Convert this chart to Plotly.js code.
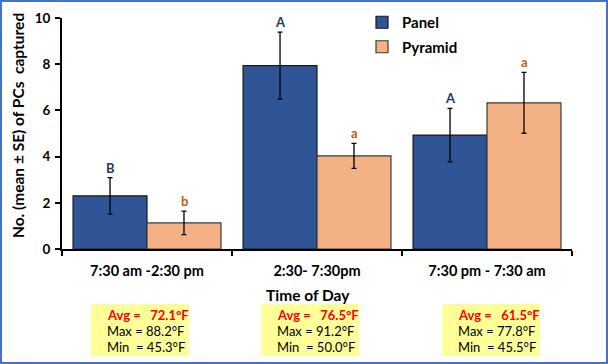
<!DOCTYPE html>
<html>
<head>
<meta charset="utf-8">
<script src="https://cdn.plot.ly/plotly-3.0.1.min.js"></script>
<style>
  html, body { margin: 0; padding: 0; background: #fff; }
  #wrap { position: relative; width: 608px; height: 364px; }
  #chart { width: 608px; height: 364px; }
  #frame { position: absolute; left: 0; top: 0; width: 608px; height: 364px; box-sizing: border-box; border: 2px solid #4472C4; pointer-events: none; }
</style>
</head>
<body>
<div id="wrap"><div id="chart"></div><div id="frame"></div></div>
<script>
const categories = ["7:30 am -2:30 pm", "2:30- 7:30pm", "7:30 pm - 7:30 am"];
const panelMean = [2.3, 7.94, 4.93];
const panelSE = [0.79, 1.45, 1.16];
const pyramidMean = [1.13, 4.03, 6.33];
const pyramidSE = [0.51, 0.54, 1.32];
const panelLetters = ["B", "A", "A"];
const pyramidLetters = ["b", "a", "a"];
const avgTemps = ["72.1", "76.5", "61.5"];
const maxTemps = ["88.2", "91.2", "77.8"];
const minTemps = ["45.3", "50.0", "45.5"];

const FONT = "Lato, 'Open Sans', sans-serif";
const NB = "\u00a0";

const traces = [
  {
    type: "bar", name: "Panel", x: categories, y: panelMean, legendgroup: "g1",
    marker: { color: "#2F5597", line: { color: "#1a1a1a", width: 1.2 } },
    error_y: { type: "data", array: panelSE, visible: true, color: "#000", thickness: 1.3, width: 2.5 }
  },
  {
    type: "bar", name: "Pyramid", x: categories, y: pyramidMean, legendgroup: "g2",
    marker: { color: "#F4B183", line: { color: "#3a3a3a", width: 1.2 } },
    error_y: { type: "data", array: pyramidSE, visible: true, color: "#000", thickness: 1.3, width: 2.5 }
  }
];

// plot area in pixels
const W = 608, H = 364;
const L = 62, R = 572, T = 18, B = 249;
const px = x => (x - L) / (R - L);
const py = y => (B - y) / (B - T);

const annotations = [];
categories.forEach((c, i) => {
  annotations.push({
    x: c, y: panelMean[i] + panelSE[i], xref: "x", yref: "y", xshift: -37, yshift: 0,
    text: "<b>" + panelLetters[i] + "</b>", showarrow: false, yanchor: "bottom",
    font: { family: FONT, size: 13, color: "#1F3864" }
  });
  annotations.push({
    x: c, y: pyramidMean[i] + pyramidSE[i], xref: "x", yref: "y", xshift: 37, yshift: 0,
    text: "<b>" + pyramidLetters[i] + "</b>", showarrow: false, yanchor: "bottom",
    font: { family: FONT, size: 13, color: "#C55A11" }
  });
});

const boxX = [91, 261, 442];
const boxW = 98;
const shapes = [];
boxX.forEach((bx, i) => {
  shapes.push({
    type: "rect", xref: "paper", yref: "paper",
    x0: px(bx), x1: px(bx + boxW), y0: py(356), y1: py(304),
    fillcolor: "#FFFF99", line: { width: 0 }, layer: "below"
  });
  annotations.push({
    xref: "paper", yref: "paper", x: px(bx + 14), y: py(315), xanchor: "left", yanchor: "middle",
    text: "<b>Avg =" + NB + NB + " " + avgTemps[i] + "°F</b>", showarrow: false,
    font: { family: FONT, size: 13, color: "#FF0000" }
  });
  annotations.push({
    xref: "paper", yref: "paper", x: px(bx + 14), y: py(331), xanchor: "left", yanchor: "middle",
    text: "Max = " + maxTemps[i] + "°F", showarrow: false,
    font: { family: FONT, size: 13, color: "#000" }
  });
  annotations.push({
    xref: "paper", yref: "paper", x: px(bx + 14), y: py(347), xanchor: "left", yanchor: "middle",
    text: "Min" + NB + NB + "= " + minTemps[i] + "°F", showarrow: false,
    font: { family: FONT, size: 13, color: "#000" }
  });
});

annotations.push({
  xref: "paper", yref: "paper", x: px(308), y: py(295), xanchor: "center", yanchor: "middle",
  text: "<b>Time of Day</b>", showarrow: false, font: { family: FONT, size: 15.5, color: "#000" }
});
annotations.push({
  xref: "paper", yref: "paper", x: px(18), y: py(126), xanchor: "center", yanchor: "middle",
  text: "<b>No. (mean ± SE) of PCs" + NB + NB + "captured</b>", textangle: -90, showarrow: false,
  font: { family: FONT, size: 15.5, color: "#000" }
});

const layout = {
  width: W, height: H,
  margin: { l: L, r: W - R, t: T, b: H - B, autoexpand: false },
  paper_bgcolor: "#fff", plot_bgcolor: "#fff",
  barmode: "group", bargap: 0.13, bargroupgap: 0,
  showlegend: true,
  legend: {
    x: px(362), y: py(6), xanchor: "left", yanchor: "top",
    font: { family: FONT, size: 15, color: "#000", weight: "bold" },
    bgcolor: "rgba(0,0,0,0)", itemwidth: 30, tracegroupgap: 2, traceorder: "grouped"
  },
  xaxis: {
    type: "category", showline: true, linecolor: "#000", linewidth: 2,
    ticks: "outside", tickson: "boundaries", ticklen: 5, tickwidth: 2, tickcolor: "#000",
    tickfont: { family: FONT, size: 14.5, color: "#000", weight: "bold" },
    ticklabelstandoff: 8, showgrid: false, zeroline: false, automargin: false
  },
  yaxis: {
    range: [0, 10], tickvals: [0, 2, 4, 6, 8, 10], showline: true, linecolor: "#000", linewidth: 2,
    ticks: "outside", ticklen: 5, tickwidth: 2, tickcolor: "#000",
    tickfont: { family: FONT, size: 13.5, color: "#000", weight: "bold" },
    ticklabelstandoff: 2, showgrid: false, zeroline: false, automargin: false
  },
  shapes: shapes,
  annotations: annotations
};

Plotly.newPlot("chart", traces, layout, { displayModeBar: false, staticPlot: true });
</script>
</body>
</html>
